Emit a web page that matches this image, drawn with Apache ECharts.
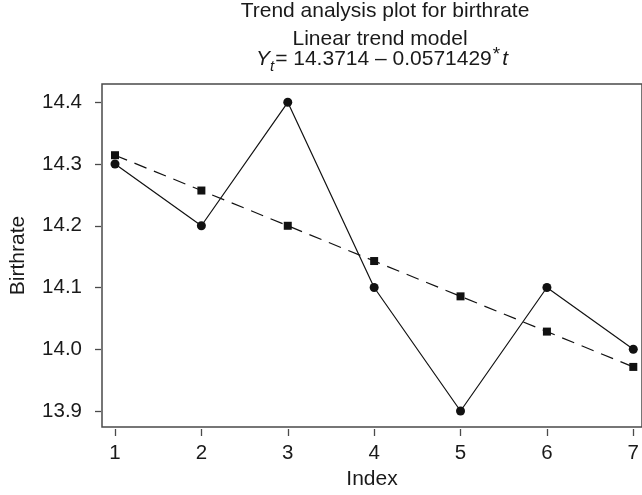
<!DOCTYPE html>
<html>
<head>
<meta charset="utf-8">
<script src="https://cdn.jsdelivr.net/npm/echarts@6/dist/echarts.min.js"></script>
<style>
html,body{margin:0;padding:0;background:#fff;}
#chart{width:642px;height:495px;}
</style>
</head>
<body>
<div id="chart"></div>
<script>
// ---- data ----
var indexValues = [1, 2, 3, 4, 5, 6, 7];
var actualBirthrate = [14.3, 14.2, 14.4, 14.1, 13.9, 14.1, 14.0];
var trendFits = [14.3143, 14.2571, 14.2000, 14.1429, 14.0857, 14.0286, 13.9714];
var yTicks = [13.9, 14.0, 14.1, 14.2, 14.3, 14.4];
var titleLine1 = 'Trend analysis plot for birthrate';
var titleLine2 = 'Linear trend model';
var xName = 'Index';
var yName = 'Birthrate';

var FONT = 'Liberation Sans, Arial, Helvetica, sans-serif';
var TXT = '#1a1a1a';
var chart = echarts.init(document.getElementById('chart'), null, {renderer: 'canvas'});

function pairs(xs, ys) { return xs.map(function (x, i) { return [x, ys[i]]; }); }

var option = {
  backgroundColor: '#ffffff',
  animation: false,
  textStyle: {fontFamily: FONT},
  title: [
    {
      text: titleLine1, left: 385, top: 1, textAlign: 'center', padding: 0,
      textStyle: {fontFamily: FONT, fontSize: 21, fontWeight: 'normal', color: TXT, lineHeight: 21}
    },
    {
      text: titleLine2, left: 380, top: 29, textAlign: 'center', padding: 0,
      textStyle: {fontFamily: FONT, fontSize: 21, fontWeight: 'normal', color: TXT, lineHeight: 21}
    },
    {
      text: '{i|Y}{sub|t}{n|= 14.3714 \u2013 0.0571429}{sup|*}{i|t}',
      left: 382, top: 48, textAlign: 'center', padding: 0,
      textStyle: {
        fontFamily: FONT, fontSize: 21, fontWeight: 'normal', color: TXT,
        rich: {
          n: {fontFamily: FONT, fontSize: 21, color: TXT, lineHeight: 22},
          i: {fontFamily: FONT, fontSize: 21, fontStyle: 'italic', color: TXT, lineHeight: 22},
          sub: {fontFamily: FONT, fontSize: 15, fontStyle: 'italic', color: TXT, lineHeight: 22, padding: [15, 1, 0, 0]},
          sup: {fontFamily: FONT, fontSize: 19, color: TXT, lineHeight: 22, padding: [0, 2, 8, 1]}
        }
      }
    }
  ],
  grid: [
    {left: 101, top: 84, width: 560, bottom: 66, show: true, borderColor: '#4a4a4a', borderWidth: 1.5, backgroundColor: 'transparent'},
    {left: 115, right: 4, top: 102.3, bottom: 84}
  ],
  xAxis: [
    {
      gridIndex: 0, type: 'value', min: 0, max: 1,
      name: xName, nameLocation: 'middle', nameGap: 42,
      nameTextStyle: {fontFamily: FONT, fontSize: 21, color: TXT},
      axisLine: {show: false}, axisTick: {show: false}, axisLabel: {show: false}, splitLine: {show: false}
    },
    {
      gridIndex: 1, type: 'value', min: 1, max: 7, interval: 1, offset: 18,
      axisLine: {show: false},
      axisTick: {show: true, length: 7, lineStyle: {color: '#4a4a4a', width: 1.3}},
      axisLabel: {fontFamily: FONT, fontSize: 20.5, color: TXT, margin: 14},
      splitLine: {show: false}
    }
  ],
  yAxis: [
    {
      gridIndex: 0, type: 'value', min: 0, max: 1,
      name: yName, nameLocation: 'middle', nameGap: 73, nameRotate: 90,
      nameTextStyle: {fontFamily: FONT, fontSize: 21, color: TXT},
      axisLine: {show: false}, axisTick: {show: false}, axisLabel: {show: false}, splitLine: {show: false}
    },
    {
      gridIndex: 1, type: 'value', min: yTicks[0], max: yTicks[yTicks.length - 1], interval: 0.1, offset: 14,
      axisLine: {show: false},
      axisTick: {show: true, length: 6, lineStyle: {color: '#4a4a4a', width: 1.3}},
      axisLabel: {fontFamily: FONT, fontSize: 20.5, color: TXT, margin: 19,
        formatter: function (v) { return v.toFixed(1); }},
      splitLine: {show: false}
    }
  ],
  series: [
    {
      name: 'Fits', type: 'line', xAxisIndex: 1, yAxisIndex: 1,
      data: pairs(indexValues, trendFits),
      symbol: 'rect', symbolSize: 8, showSymbol: true,
      lineStyle: {color: '#111', width: 1.2, type: [13, 8]},
      itemStyle: {color: '#111'}, clip: false, z: 3
    },
    {
      name: 'Actual', type: 'line', xAxisIndex: 1, yAxisIndex: 1,
      data: pairs(indexValues, actualBirthrate),
      symbol: 'circle', symbolSize: 9, showSymbol: true,
      lineStyle: {color: '#111', width: 1.2},
      itemStyle: {color: '#111'}, clip: false, z: 4
    }
  ]
};
chart.setOption(option);
</script>
</body>
</html>
